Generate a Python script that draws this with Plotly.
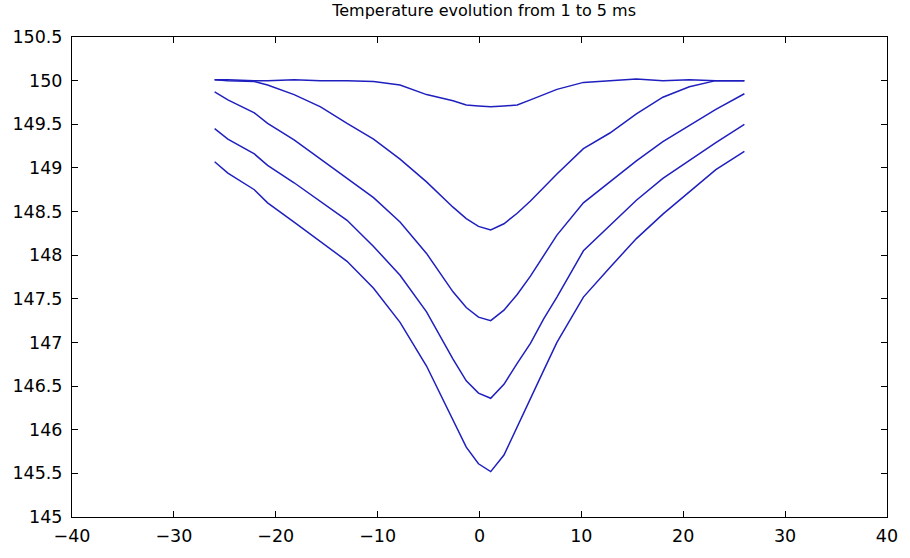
import plotly.graph_objects as go

# x positions of the nodes (mm)
x_pos = [-26, -24.7, -22.1, -20.8, -18.2, -15.6, -13.0, -10.4, -7.8, -5.2, -2.6, -1.3, -0.1,
         1.1, 2.4, 3.7, 5.0, 6.3, 7.6, 10.2, 12.8, 15.4, 18.0, 20.6, 23.2, 26]

temp_1ms = [150.01, 150.01, 150.0, 150.0, 150.01, 150.0, 150.0, 149.99, 149.95, 149.84, 149.77, 149.72, 149.71,
            149.70, 149.71, 149.72, 149.78, 149.84, 149.90, 149.98, 150.0, 150.02, 150.0, 150.01, 150.0, 150.0]
temp_2ms = [150.01, 150.0, 149.99, 149.95, 149.84, 149.70, 149.51, 149.33, 149.10, 148.84, 148.55, 148.42, 148.33,
            148.29, 148.36, 148.48, 148.62, 148.78, 148.93, 149.22, 149.40, 149.62, 149.81, 149.93, 150.0, 150.0]
temp_3ms = [149.87, 149.78, 149.63, 149.51, 149.32, 149.10, 148.88, 148.66, 148.38, 148.02, 147.58, 147.40, 147.29,
            147.25, 147.37, 147.55, 147.76, 148.00, 148.23, 148.60, 148.84, 149.08, 149.30, 149.49, 149.67, 149.85]
temp_4ms = [149.45, 149.33, 149.16, 149.03, 148.83, 148.62, 148.40, 148.10, 147.77, 147.35, 146.81, 146.56, 146.42,
            146.36, 146.52, 146.76, 146.99, 147.27, 147.52, 148.05, 148.34, 148.63, 148.88, 149.09, 149.29, 149.50]
temp_5ms = [149.07, 148.94, 148.75, 148.60, 148.38, 148.15, 147.93, 147.62, 147.23, 146.73, 146.12, 145.80, 145.61,
            145.52, 145.71, 146.04, 146.36, 146.68, 147.00, 147.52, 147.86, 148.19, 148.47, 148.73, 148.98, 149.19]

x_ticks = [-40, -30, -20, -10, 0, 10, 20, 30, 40]
x_tick_labels = ["\u221240", "\u221230", "\u221220", "\u221210", "0", "10", "20", "30", "40"]
y_ticks = [145, 145.5, 146, 146.5, 147, 147.5, 148, 148.5, 149, 149.5, 150, 150.5]
y_tick_labels = ["145", "145.5", "146", "146.5", "147", "147.5", "148", "148.5", "149", "149.5", "150", "150.5"]

title_text = "Temperature evolution from 1 to 5 ms"

line_color = "#1f1fbf"
fig = go.Figure()
for series in [temp_1ms, temp_2ms, temp_3ms, temp_4ms, temp_5ms]:
    fig.add_trace(go.Scatter(x=x_pos, y=series, mode="lines",
                             line=dict(color=line_color, width=1.5),
                             showlegend=False, hoverinfo="skip"))

font_family = "DejaVu Sans, Liberation Sans, Arial, sans-serif"
axis_common = dict(
    showgrid=False, zeroline=False, showline=True, linecolor="black", linewidth=1,
    mirror="ticks", ticks="inside", ticklen=6, tickwidth=1, tickcolor="black",
    tickfont=dict(family=font_family, size=17.5, color="black"),
)

fig.update_layout(
    width=910, height=558,
    margin=dict(l=71, r=13, t=37, b=28),
    paper_bgcolor="white", plot_bgcolor="white",
    title=dict(text=title_text, x=0.532, xanchor="center", y=0.992, yanchor="top",
               font=dict(family=font_family, size=16, color="black")),
    xaxis=dict(range=[-40, 40], tickvals=x_ticks, ticktext=x_tick_labels,
               ticklabelstandoff=3, **axis_common),
    yaxis=dict(range=[145, 150.5], tickvals=y_ticks, ticktext=y_tick_labels,
               ticklabelstandoff=5, **axis_common),
)

fig.write_html("out.html")
